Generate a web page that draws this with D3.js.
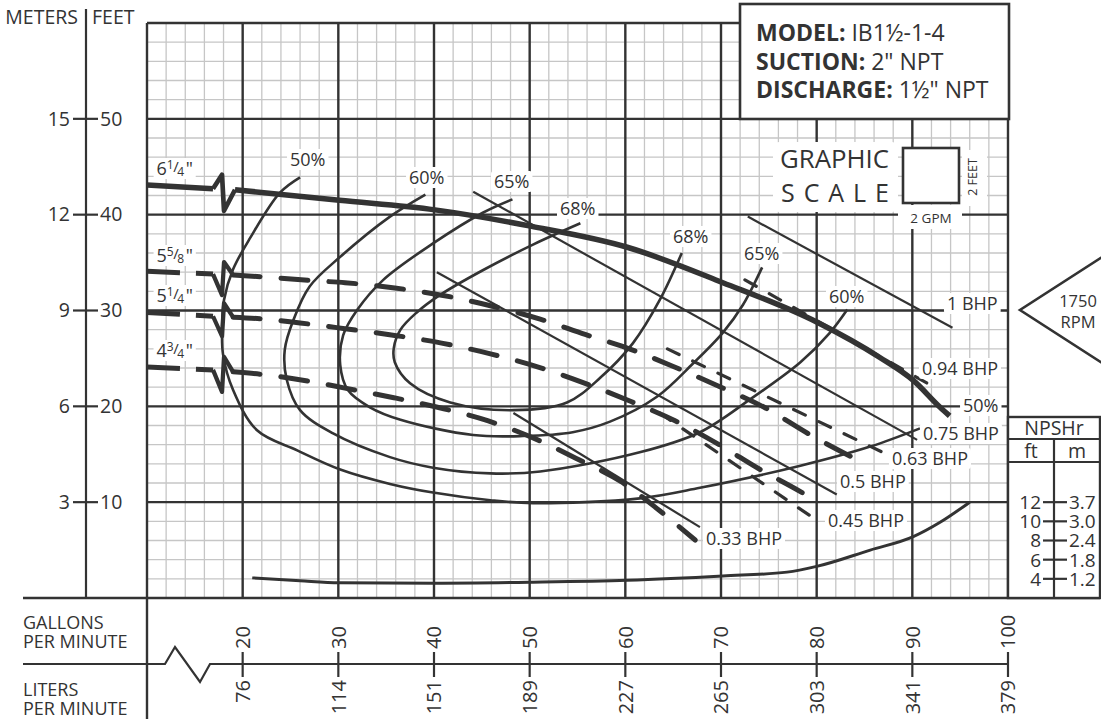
<!DOCTYPE html>
<html><head><meta charset="utf-8">
<script src="https://cdn.jsdelivr.net/npm/d3@7/dist/d3.min.js"></script>
<style>
html,body{margin:0;padding:0;background:#fff;}
svg text{font-family:'Open Sans',sans-serif;fill:#333;}
</style></head><body>
<svg id="chart" width="1101" height="719"></svg>
<script>
// ---------------- DATA ----------------
const gpmTicks=[20,30,40,50,60,70,80,90,100];
const lpmTicks=["76","114","151","189","227","265","303","341","379"];
const feetTicks=[10,20,30,40,50];
const meterTicks=["3","6","9","12","15"];
const npshFtTicks=[4,6,8,10,12];
const npshMTicks=["1.2","1.8","2.4","3.0","3.7"];

// impeller head curves (GPM, feet) : part before the axis break, part after
const h625PreGpm=[10,16.9], h625PreFt=[43.1,42.7];
const h625Gpm=[19.2,30.1,40.1,50.1,60.2,70.2,80.0,86.6,90.1,92.9,93.9];
const h625Ft =[42.6,41.5,40.5,38.8,36.6,32.9,28.8,25.1,22.7,19.9,19.0];
const h558PreGpm=[10,16.9], h558PreFt=[34.1,33.8];
const h558Gpm=[19.0,22.3,27.6,30.7,35.9,40.8,45.9,51.1,55.8,60.7,65.4,70.0,74.7,79.2,83.7,85.3];
const h558Ft =[33.7,33.5,33.1,32.9,32.35,31.6,30.5,29.1,27.5,25.9,24.0,22.0,19.8,17.1,14.7,13.9];
const h514PreGpm=[10,16.9], h514PreFt=[29.8,29.4];
const h514Gpm=[19.0,22.3,26.0,30.7,35.9,40.8,45.8,50.9,55.8,60.6,65.2,69.8,74.1,78.3,79.8];
const h514Ft =[29.3,29.1,28.7,28.1,27.4,26.6,25.5,24.1,22.4,20.5,18.5,16.0,13.4,11.1,10.2];
const h434PreGpm=[10,16.9], h434PreFt=[24.1,23.8];
const h434Gpm=[19.0,22.3,27.6,30.7,35.8,40.8,45.6,50.6,55.1,59.7,63.6,67.3];
const h434Ft =[23.6,23.3,22.5,21.9,20.9,19.8,18.5,16.6,14.45,12.05,9.1,6.05];

// efficiency iso-curves (GPM, feet)
const eff50Gpm=[26.0,23.9,20.8,19.0,18.05,17.85,17.95,19.0,21.5,25.7,30.2,35.4,39.9,45.9,50.35,61.5,67.8,78.3,85.6,90.8];
const eff50Ft =[43.9,42.3,37.6,34.3,31.1,28.0,25.4,21.7,17.5,15.4,13.4,11.9,11.0,10.2,9.9,10.4,11.5,13.8,15.8,17.7];
const eff60Gpm=[39.1,35.4,30.2,27.0,25.3,24.4,24.6,26.0,29.4,35.4,39.9,45.9,51.1,61.5,67.8,73.0,78.3,81.4,83.2];
const eff60Ft =[42.1,39.8,35.6,32.5,29.0,25.9,22.8,19.6,17.2,14.7,13.6,13.0,13.2,15.2,17.3,20.7,24.6,27.7,30.1];
const eff65Gpm=[48.2,45.1,39.9,34.7,32.0,30.5,30.2,31.0,33.3,36.5,44.1,49.3,54.5,58.4,63.3,67.1,70.2,72.3,74.3];
const eff65Ft =[41.6,40.2,37.0,33.2,30.1,27.4,24.3,21.7,19.9,18.6,17.0,16.9,17.3,18.4,21.0,24.5,27.7,30.6,34.5];
const eff68Gpm=[55.3,50.4,45.1,40.6,38.2,36.5,35.8,35.9,37.5,41.7,48.3,53.9,57.4,60.8,63.6,65.9];
const eff68Ft =[39.1,36.9,34.2,31.6,29.8,28.0,26.1,24.6,22.4,20.4,19.6,20.4,23.0,26.6,31.1,36.0];
const effLabels=["50%","60%","65%","68%","68%","65%","60%","50%"];

// brake horsepower lines (solid = drawn, dashed = end-of-curve power)
const bhpLabels=["1 BHP","0.94 BHP","0.75 BHP","0.63 BHP","0.5 BHP","0.45 BHP","0.33 BHP"];
const bhpStartGpm=[72.8,72.5,44.1,64.4,40.3,63.6,48.3];
const bhpStartFt =[39.8,33.2,42.4,26.0,34.0,19.3,19.3];
const bhpEndGpm  =[94.2,92.1,90.5,86.9,82.1,79.8,67.8];
const bhpEndFt   =[28.2,22.1,16.5,15.2,10.8,8.25,7.4];
const bhpDashed  =[false,true,false,true,false,true,false];

// NPSHr curve (GPM, NPSHr feet)
const npshGpm=[21.0,26,30.1,40.1,50.1,60.2,70.2,76.9,80,85.6,90.1,92.9,96.0];
const npshFt =[4.1,3.8,3.6,3.55,3.65,3.85,4.3,4.7,5.3,7.0,8.4,9.9,12.0];

// ---------------- SCALES ----------------
const svg=d3.select('#chart');
const INK='#333', GRID='#c6c6c6';
const x=d3.scaleLinear().domain([10,100]).range([147,1008]);
const y=d3.scaleLinear().domain([0,60]).range([598,23]);
const yN=d3.scaleLinear().domain([2,62]).range([598,23]);
const X0=x(10), X1=x(100), Y0=y(0), Y1=y(60);

// ---------------- GRID ----------------
const gGrid=svg.append('g');
gGrid.selectAll('line.mx').data(d3.range(10,101,2)).join('line').attr('class','mx')
 .attr('x1',d=>x(d)).attr('x2',d=>x(d)).attr('y1',Y0).attr('y2',Y1)
 .attr('stroke',GRID).attr('stroke-width',1.3);
gGrid.selectAll('line.my').data(d3.range(0,61,2)).join('line').attr('class','my')
 .attr('x1',X0).attr('x2',X1).attr('y1',d=>y(d)).attr('y2',d=>y(d))
 .attr('stroke',GRID).attr('stroke-width',1.3);
gGrid.selectAll('line.Mx').data(d3.range(20,100,10)).join('line').attr('class','Mx')
 .attr('x1',d=>x(d)).attr('x2',d=>x(d)).attr('y1',Y0).attr('y2',Y1)
 .attr('stroke',INK).attr('stroke-width',2.4);
gGrid.selectAll('line.My').data(d3.range(10,61,10)).join('line').attr('class','My')
 .attr('x1',X0).attr('x2',X1).attr('y1',d=>y(d)).attr('y2',d=>y(d))
 .attr('stroke',INK).attr('stroke-width',2.4);
gGrid.append('line').attr('x1',X0).attr('x2',X0).attr('y1',Y1).attr('y2',719).attr('stroke',INK).attr('stroke-width',2.4);
gGrid.append('line').attr('x1',X1).attr('x2',X1).attr('y1',Y1).attr('y2',Y0).attr('stroke',INK).attr('stroke-width',2.4);
gGrid.append('line').attr('x1',23).attr('x2',1100).attr('y1',Y0).attr('y2',Y0).attr('stroke',INK).attr('stroke-width',2.4);

// ---------------- LEFT AXIS ----------------
const gL=svg.append('g');
gL.append('line').attr('x1',86).attr('x2',86).attr('y1',9).attr('y2',Y0).attr('stroke',INK).attr('stroke-width',2.2);
gL.append('text').attr('x',78).attr('y',24).attr('text-anchor','end').attr('font-size',19.5).text('METERS');
gL.append('text').attr('x',92).attr('y',24).attr('font-size',19.5).text('FEET');
feetTicks.forEach((v,i)=>{
  gL.append('line').attr('x1',73).attr('x2',98).attr('y1',y(v)).attr('y2',y(v)).attr('stroke',INK).attr('stroke-width',2.2);
  gL.append('text').attr('x',70).attr('y',y(v)).attr('dy','0.35em').attr('text-anchor','end').attr('font-size',19.5).text(meterTicks[i]);
  gL.append('text').attr('x',100).attr('y',y(v)).attr('dy','0.35em').attr('font-size',19.5).text(v);
});

// ---------------- BOTTOM AXIS ----------------
const gB=svg.append('g');
const axY=664;
gB.append('path').attr('fill','none').attr('stroke',INK).attr('stroke-width',2.2)
 .attr('d',`M23,${axY}H165L175,647L200,682L210,${axY}H${x(100)}`);
gB.append('text').attr('x',23).attr('y',629).attr('font-size',18).text('GALLONS');
gB.append('text').attr('x',23).attr('y',648).attr('font-size',18).text('PER MINUTE');
gB.append('text').attr('x',23).attr('y',696).attr('font-size',18).text('LITERS');
gB.append('text').attr('x',23).attr('y',715).attr('font-size',18).text('PER MINUTE');
gpmTicks.forEach((v,i)=>{
  gB.append('line').attr('x1',x(v)).attr('x2',x(v)).attr('y1',652).attr('y2',677).attr('stroke',INK).attr('stroke-width',2.2);
  gB.append('text').attr('transform',`translate(${x(v)},649) rotate(-90)`).attr('dy','0.36em').attr('font-size',20).text(v);
  gB.append('text').attr('transform',`translate(${x(v)},680) rotate(-90)`).attr('dy','0.36em').attr('text-anchor','end').attr('font-size',20).text(lpmTicks[i]);
});

// ---------------- CURVES ----------------
const gC=svg.append('g');
const zip=(a,b)=>a.map((v,i)=>[v,b[i]]);
const lineM=d3.line().x(d=>x(d[0])).y(d=>y(d[1])).curve(d3.curveMonotoneX);
const lineC=d3.line().x(d=>x(d[0])).y(d=>y(d[1])).curve(d3.curveCatmullRom.alpha(0.5));

[[eff50Gpm,eff50Ft],[eff60Gpm,eff60Ft],[eff65Gpm,eff65Ft],[eff68Gpm,eff68Ft]].forEach(([g,f])=>{
  gC.append('path').attr('d',lineC(zip(g,f))).attr('fill','none').attr('stroke',INK).attr('stroke-width',2.6);
});
gC.append('path').attr('d',d3.line().x(d=>x(d[0])).y(d=>yN(d[1])).curve(d3.curveMonotoneX)(zip(npshGpm,npshFt)))
 .attr('fill','none').attr('stroke',INK).attr('stroke-width',3);
bhpLabels.forEach((b,i)=>{
  const l=gC.append('line').attr('x1',x(bhpStartGpm[i])).attr('y1',y(bhpStartFt[i]))
   .attr('x2',x(bhpEndGpm[i])).attr('y2',y(bhpEndFt[i])).attr('stroke',INK).attr('stroke-width',2.2);
  if(bhpDashed[i]){ l.attr('stroke-dasharray','13,15').attr('stroke-linecap','round').attr('stroke-width',3.2); }
});
const heads=[
 {pre:zip(h625PreGpm,h625PreFt),post:zip(h625Gpm,h625Ft),dash:null,zig:[-14,22]},
 {pre:zip(h558PreGpm,h558PreFt),post:zip(h558Gpm,h558Ft),dash:'27,21',zig:[21,-12]},
 {pre:zip(h514PreGpm,h514PreFt),post:zip(h514Gpm,h514Ft),dash:'27,21',zig:[20,-13]},
 {pre:zip(h434PreGpm,h434PreFt),post:zip(h434Gpm,h434Ft),dash:'27,21',zig:[22,-13]}
];
heads.forEach(h=>{
  const w=h.dash?5:5.5;
  const p1=gC.append('path').attr('d',lineM(h.pre)).attr('fill','none').attr('stroke',INK).attr('stroke-width',w);
  const p2=gC.append('path').attr('d',lineM(h.post)).attr('fill','none').attr('stroke',INK).attr('stroke-width',w);
  if(h.dash){p1.attr('stroke-dasharray','33,16').attr('stroke-linecap','butt');p2.attr('stroke-dasharray',h.dash).attr('stroke-linecap','round');}
  const a=h.pre[h.pre.length-1], b=h.post[0];
  const ax=x(a[0]), ay=y(a[1]), bx=x(b[0]), by=y(b[1]);
  gC.append('path').attr('fill','none').attr('stroke',INK).attr('stroke-width',w*0.85).attr('stroke-linejoin','round')
   .attr('d',`M${ax},${ay}L${ax+9},${ay+h.zig[0]}L${ax+11},${ay+h.zig[1]}L${bx},${by}`);
});

// ---------------- LABELS ----------------
const gT=svg.append('g');
function knock(g,pad){
  const bb=g.node().getBBox();
  g.insert('rect',':first-child').attr('x',bb.x-pad).attr('y',bb.y+2).attr('width',bb.width+2*pad).attr('height',bb.height-3)
   .attr('fill','#fff').attr('rx',3);
}
function label(txt,gx,fy,size){
  const g=gT.append('g');
  g.append('text').attr('x',x(gx)).attr('y',y(fy)).attr('font-size',size).text(txt);
  knock(g,3);
}
const effLabPos=[[24.95,45.08],[37.39,43.2],[46.27,42.78],[53.17,39.97],[64.98,37.04],[72.4,35.27],[81.29,30.78],[95.3,19.41]];
effLabels.forEach((t,i)=>label(t,effLabPos[i][0],effLabPos[i][1],18));
const bhpLabPos=[[93.62,30.05],[91.01,23.27],[91.11,16.49],[87.87,13.88],[82.44,11.48],[81.18,7.41],[68.43,5.53]];
bhpLabels.forEach((b,i)=>label(b,bhpLabPos[i][0],bhpLabPos[i][1],18));
// impeller diameter labels with stacked fractions
const diaParts=[["6","1","4"],["5","5","8"],["5","1","4"],["4","3","4"]];
const diaFt=[44.14,35.06,30.88,25.15];
diaParts.forEach((p,i)=>{
  const g=gT.append('g');
  const t=g.append('text').attr('x',x(11.0)).attr('y',y(diaFt[i])).attr('font-size',18);
  t.append('tspan').text(p[0]);
  t.append('tspan').attr('font-size',12).attr('dy',-6).text(p[1]);
  t.append('tspan').attr('font-size',15).attr('dy',3).attr('dx',-0.5).text('/');
  t.append('tspan').attr('font-size',12).attr('dy',4).attr('dx',-1.5).text(p[2]);
  t.append('tspan').attr('font-size',18).attr('dy',-1).attr('dx',1.5).text('"');
  knock(g,3);
});

// ---------------- MODEL BOX ----------------
const gM=svg.append('g');
gM.append('rect').attr('x',740).attr('y',4).attr('width',X1-740+1).attr('height',115).attr('fill','#fff').attr('stroke',INK).attr('stroke-width',2.6);
[["MODEL:"," IB1½-1-4",41],["SUCTION:"," 2\" NPT",70],["DISCHARGE:"," 1½\" NPT",98]].forEach(r=>{
  const t=gM.append('text').attr('x',756).attr('y',r[2]).attr('font-size',23);
  t.append('tspan').attr('font-weight',700).text(r[0]);
  t.append('tspan').text(r[1]);
});

// ---------------- GRAPHIC SCALE ----------------
const gS=svg.append('g');
gS.append('rect').attr('x',773).attr('y',142).attr('width',125).attr('height',70).attr('rx',6).attr('fill','#fff');
gS.append('rect').attr('x',898).attr('y',205).attr('width',64).attr('height',24).attr('rx',4).attr('fill','#fff');
gS.append('rect').attr('x',962).attr('y',150).attr('width',25).attr('height',56).attr('rx',4).attr('fill','#fff');
gS.append('rect').attr('x',903).attr('y',148).attr('width',56).attr('height',55).attr('fill','#fff').attr('stroke',INK).attr('stroke-width',2.6);
gS.append('text').attr('x',780).attr('y',168).attr('font-size',25).attr('textLength',109).attr('lengthAdjust','spacingAndGlyphs').text('GRAPHIC');
gS.append('text').attr('x',781).attr('y',202).attr('font-size',25).attr('textLength',108).attr('lengthAdjust','spacing').text('SCALE');
gS.append('text').attr('transform','translate(973,177) rotate(-90)').attr('text-anchor','middle').attr('dy','0.35em').attr('font-size',12.5).text('2 FEET');
gS.append('text').attr('x',931).attr('y',223).attr('text-anchor','middle').attr('font-size',13.5).text('2 GPM');

// ---------------- RPM MARKER ----------------
const gR=svg.append('g');
gR.append('path').attr('fill','none').attr('stroke',INK).attr('stroke-width',2.6).attr('d','M1110,252L1020,310L1110,368');
gR.append('text').attr('x',1078).attr('y',307).attr('text-anchor','middle').attr('font-size',16.5).text('1750');
gR.append('text').attr('x',1078).attr('y',328).attr('text-anchor','middle').attr('font-size',16.5).text('RPM');

// ---------------- NPSHr BOX ----------------
const gN=svg.append('g');
gN.append('rect').attr('x',X1).attr('y',417).attr('width',1100-X1).attr('height',Y0-417).attr('fill','#fff').attr('stroke',INK).attr('stroke-width',2.4);
gN.append('line').attr('x1',X1).attr('x2',1100).attr('y1',439).attr('y2',439).attr('stroke',INK).attr('stroke-width',2.2);
gN.append('line').attr('x1',X1).attr('x2',1100).attr('y1',462).attr('y2',462).attr('stroke',INK).attr('stroke-width',2.2);
gN.append('line').attr('x1',1054).attr('x2',1054).attr('y1',439).attr('y2',Y0).attr('stroke',INK).attr('stroke-width',2.2);
gN.append('text').attr('x',1054).attr('y',435).attr('text-anchor','middle').attr('font-size',19.5).text('NPSHr');
gN.append('text').attr('x',1031).attr('y',458).attr('text-anchor','middle').attr('font-size',19.5).text('ft');
gN.append('text').attr('x',1077).attr('y',458).attr('text-anchor','middle').attr('font-size',19.5).text('m');
npshFtTicks.forEach((v,i)=>{
  gN.append('line').attr('x1',1043).attr('x2',1067).attr('y1',yN(v)).attr('y2',yN(v)).attr('stroke',INK).attr('stroke-width',2.2);
  gN.append('text').attr('x',1041).attr('y',yN(v)).attr('dy','0.36em').attr('text-anchor','end').attr('font-size',19).text(v);
  gN.append('text').attr('x',1069).attr('y',yN(v)).attr('dy','0.36em').attr('font-size',19).text(npshMTicks[i]);
});
</script>
</body></html>
